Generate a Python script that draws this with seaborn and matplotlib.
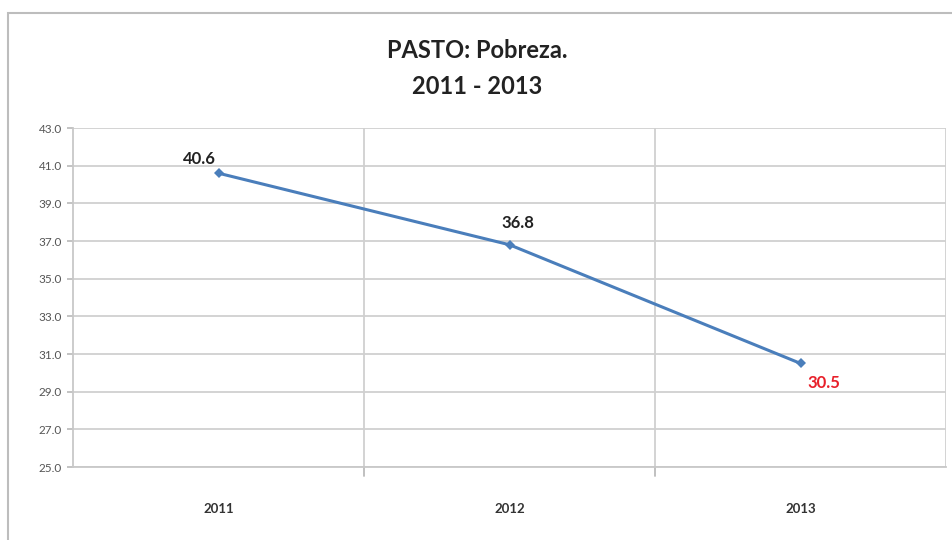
import numpy as np
import pandas as pd
import matplotlib
matplotlib.use("Agg")
import matplotlib.pyplot as plt
import seaborn as sns
from matplotlib.patches import Rectangle

# datos
anios = ["2011", "2012", "2013"]
pobreza = [40.6, 36.8, 30.5]
etiquetas = ["40.6", "36.8", "30.5"]
colores_etiqueta = ["#222222", "#222222", "#E8202A"]
y_ticks = [25.0, 27.0, 29.0, 31.0, 33.0, 35.0, 37.0, 39.0, 41.0, 43.0]

df = pd.DataFrame({"anio": anios, "pobreza": pobreza})

sns.set_theme(style="white")
plt.rcParams["font.family"] = ["Lato", "DejaVu Sans"]

fig = plt.figure(figsize=(9.52, 5.4), dpi=100)
ax = fig.add_axes([73 / 952, 1 - 467 / 540, (946 - 73) / 952, (467 - 128) / 540])

sns.lineplot(data=df, x="anio", y="pobreza", ax=ax, color="#4A7EBB",
             linewidth=2.2, marker="D", markersize=5, markeredgewidth=0, sort=False)

ax.set_xlim(-0.5, 2.5)
ax.set_ylim(25, 43)
ax.set_yticks(y_ticks)
ax.set_yticklabels([f"{v:.1f}" for v in y_ticks], fontsize=8.5, color="#555555")
ax.set_xticks(range(len(anios)))
ax.set_xticklabels(anios, fontsize=9.5, fontweight="bold", color="#333333")
ax.tick_params(axis="x", length=0, pad=26)
ax.tick_params(axis="y", length=4, color="#BBBBBB", pad=4, left=True)

# rejilla
for v in y_ticks:
    ax.axhline(v, color="#D0D0D0", linewidth=1.3, zorder=0)
for xb in [0.5, 1.5]:
    ax.axvline(xb, color="#D0D0D0", linewidth=1.3, zorder=0)
    ax.plot([xb, xb], [25, 24.5], color="#BBBBBB", linewidth=1.3, clip_on=False)
ax.set_xlabel("")
ax.set_ylabel("")
for s in ["top", "right"]:
    ax.spines[s].set_visible(False)
ax.spines["left"].set_color("#C8C8C8")
ax.spines["bottom"].set_color("#C8C8C8")
ax.spines["left"].set_linewidth(1.3)
ax.spines["bottom"].set_linewidth(1.3)
ax.axvline(2.5, color="#D0D0D0", linewidth=1.3, zorder=0)

# etiquetas de datos
offsets = [(-14, 10), (6, 16), (17, -14)]
for i, (v, t, c) in enumerate(zip(pobreza, etiquetas, colores_etiqueta)):
    ax.annotate(t, (i, v), xytext=offsets[i], textcoords="offset points",
                ha="center", va="center", fontsize=12, fontweight="bold", color=c)

fig.text(0.501, 1 - 50 / 540, "PASTO: Pobreza.", ha="center", va="center",
         fontsize=17, fontweight="bold", color="#222222")
fig.text(0.501, 1 - 86 / 540, "2011 - 2013", ha="center", va="center",
         fontsize=17, fontweight="bold", color="#222222")

# borde del grafico
fig.patches.append(Rectangle((8 / 952, -0.05), 1.1, 1 - 13 / 540 + 0.05,
                             transform=fig.transFigure, fill=False,
                             edgecolor="#BDBDBD", linewidth=1.5))

fig.savefig("out.png", dpi=100, facecolor="white")
